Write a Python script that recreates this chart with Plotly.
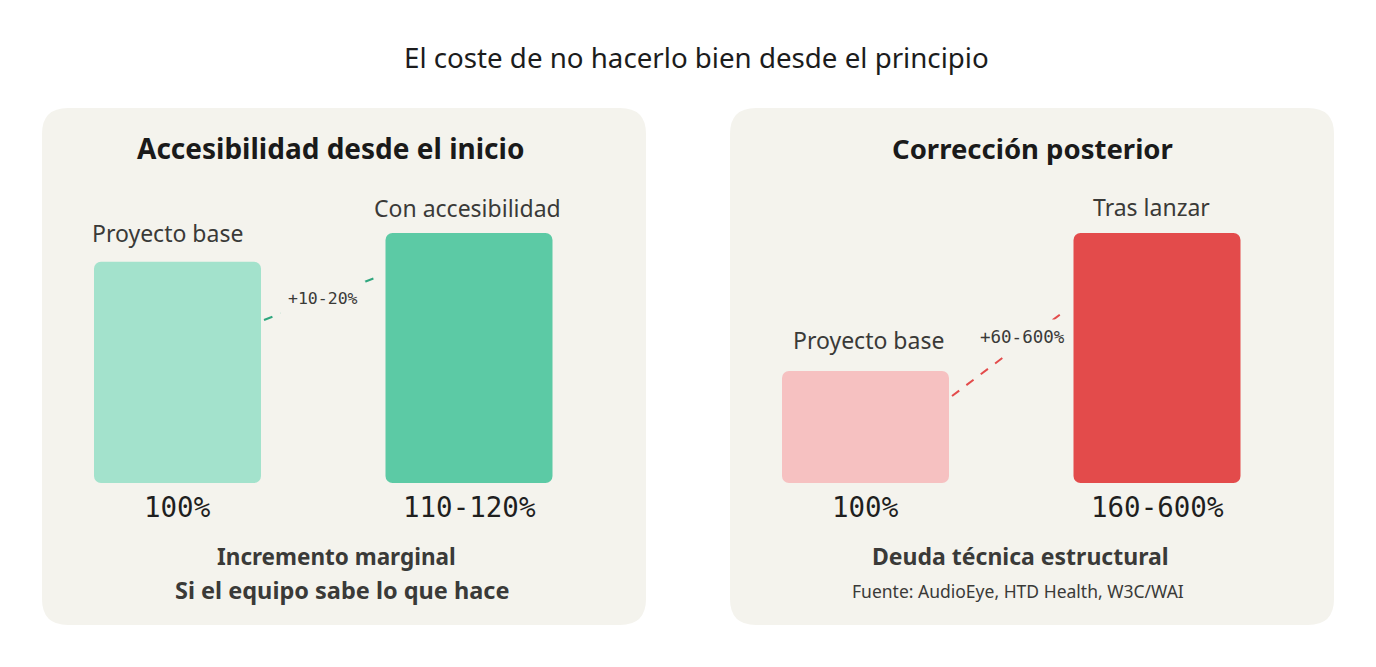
import plotly.graph_objects as go

# ---- data ----
TITLE = "El coste de no hacerlo bien desde el principio"

LEFT_TITLE = "Accesibilidad desde el inicio"
LEFT_CATS = ["Proyecto base", "Con accesibilidad"]
LEFT_HEIGHTS = [100, 113]          # visual bar heights (relative)
LEFT_VALUES = ["100%", "110-120%"]
LEFT_DELTA = "+10-20%"
LEFT_NOTES = ["Incremento marginal", "Si el equipo sabe lo que hace"]

RIGHT_TITLE = "Corrección posterior"
RIGHT_CATS = ["Proyecto base", "Tras lanzar"]
RIGHT_HEIGHTS = [100, 223]
RIGHT_VALUES = ["100%", "160-600%"]
RIGHT_DELTA = "+60-600%"
RIGHT_NOTES = ["Deuda técnica estructural"]
SOURCE = "Fuente: AudioEye, HTD Health, W3C/WAI"

LEFT_COLORS = ["#a3e2cc", "#5ccaa5"]
RIGHT_COLORS = ["#f6c1c1", "#e34b4b"]

# ---- layout constants (screen pixels; page body adds an 8px margin) ----
OFF = 8
W, H = 1376 - 2 * OFF, 667 - 2 * OFF
PANEL_BG = "#f4f3ed"
SANS = "'Noto Sans', Roboto, sans-serif"
MONO = "'DejaVu Sans Mono', monospace"
TEXT = "#3a3a38"


def px(x):
    return (x - OFF) / W


def py(y):
    return 1 - (y - OFF) / H


def rounded_rect(x0, y0, x1, y1, r):
    rx, ry = r / W, r / H
    a, b, c, d = px(x0), py(y1), px(x1), py(y0)
    return (
        f"M {a+rx},{b} L {c-rx},{b} Q {c},{b} {c},{b+ry} "
        f"L {c},{d-ry} Q {c},{d} {c-rx},{d} L {a+rx},{d} "
        f"Q {a},{d} {a},{d-ry} L {a},{b+ry} Q {a},{b} {a+rx},{b} Z"
    )


PANELS = [(42, 646), (730, 1334)]
PANEL_TOP, PANEL_BOTTOM = 108, 625
BASE_Y, TOP_Y = 483, 233
CENTER_OFF, STEP = 135.5, 291.5   # bar centre offset in panel, px per category
BAR_W = 167 / STEP

fig = go.Figure()
shapes = []
annotations = []

sides = [
    dict(cats=LEFT_CATS, h=LEFT_HEIGHTS, vals=LEFT_VALUES, colors=LEFT_COLORS,
         line="#2fa67e", delta=LEFT_DELTA, line_px=((264, 320), (380, 276)), lab_px=(323, 298),
         nudge=[(-10, 11), (-2, 7)], dsize=16.5),
    dict(cats=RIGHT_CATS, h=RIGHT_HEIGHTS, vals=RIGHT_VALUES, colors=RIGHT_COLORS,
         line="#e34b4b", delta=RIGHT_DELTA, line_px=((952, 396), (1066, 310)), lab_px=(1022, 337),
         nudge=[(3, 13), (-6, 8)], dsize=17.5),
]

for i, (side, (p0, p1)) in enumerate(zip(sides, PANELS)):
    ax = "" if i == 0 else str(i + 1)
    xr = [-CENTER_OFF / STEP, (p1 - p0 - CENTER_OFF) / STEP]
    ymax = max(side["h"])
    ppu = (BASE_Y - TOP_Y) / ymax
    h = side["h"]

    fig.add_trace(go.Bar(
        x=[0, 1], y=h, base=[0, 0], width=BAR_W,
        marker=dict(color=side["colors"], line=dict(width=0)),
        xaxis="x" + ax, yaxis="y" + ax, hoverinfo="skip", showlegend=False,
    ))
    fig.layout["xaxis" + ax] = dict(domain=[px(p0), px(p1)], range=xr, visible=False, fixedrange=True)
    fig.layout["yaxis" + ax] = dict(domain=[py(BASE_Y), py(TOP_Y)], range=[0, ymax],
                                    visible=False, fixedrange=True)

    shapes.append(dict(type="path", path=rounded_rect(p0, PANEL_TOP, p1, PANEL_BOTTOM, 26),
                       xref="paper", yref="paper", fillcolor=PANEL_BG, line=dict(width=0),
                       layer="below"))

    def to_data(pt):
        return ((pt[0] - p0 - CENTER_OFF) / STEP, (BASE_Y - pt[1]) / ppu)

    a, b = to_data(side["line_px"][0]), to_data(side["line_px"][1])
    shapes.append(dict(type="line", xref="x" + ax, yref="y" + ax, x0=a[0], y0=a[1], x1=b[0], y1=b[1],
                       line=dict(color=side["line"], width=2, dash="dash"), layer="above"))
    lx, ly = to_data(side["lab_px"])
    annotations.append(dict(x=lx, y=ly, xref="x" + ax, yref="y" + ax, text=side["delta"],
                            showarrow=False, font=dict(family=MONO, size=side["dsize"], color=TEXT),
                            bgcolor=PANEL_BG, borderpad=7))

    for j in range(2):
        dx, dy = side["nudge"][j]
        annotations.append(dict(x=j, y=h[j], xref="x" + ax, yref="y" + ax, text=side["cats"][j],
                                showarrow=False, yanchor="bottom", xshift=dx, yshift=dy,
                                font=dict(family=SANS, size=23, color=TEXT)))
        annotations.append(dict(x=j, y=0, xref="x" + ax, yref="y" + ax, text=side["vals"][j],
                                showarrow=False, yanchor="top", yshift=-6,
                                font=dict(family=MONO, size=27.5, color="#1f1f1f")))


def note(x, y, text, size, color=TEXT):
    annotations.append(dict(x=px(x), y=py(y), xref="paper", yref="paper", text=text,
                            showarrow=False, xanchor="center", yanchor="middle",
                            font=dict(family=SANS, size=size, color=color)))


note(696, 57, TITLE, 27.7, "#1c1c1c")
note(330, 148, f"<b>{LEFT_TITLE}</b>", 28, "#1a1a1a")
note(1032, 148, f"<b>{RIGHT_TITLE}</b>", 27.5, "#1a1a1a")
note(336, 556, f"<b>{LEFT_NOTES[0]}</b>", 22.5)
note(342, 590, f"<b>{LEFT_NOTES[1]}</b>", 23.5)
for t in RIGHT_NOTES:
    note(1020, 556, f"<b>{t}</b>", 23)
note(1018, 591, SOURCE, 17.5)

fig.update_layout(
    width=W, height=H,
    margin=dict(l=0, r=0, t=0, b=0),
    paper_bgcolor="white", plot_bgcolor="rgba(0,0,0,0)",
    barcornerradius=7,
    shapes=shapes, annotations=annotations,
    showlegend=False,
)

fig.write_html("out.html")
